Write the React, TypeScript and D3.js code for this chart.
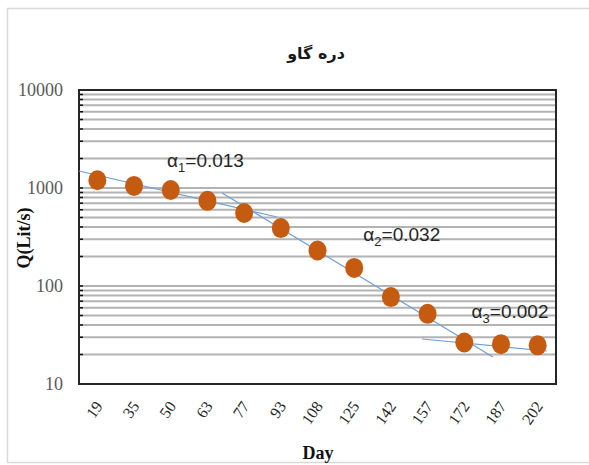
import React from "react";
import * as d3 from "d3";

const categories = ["19", "35", "50", "63", "77", "93", "108", "125", "142", "157", "172", "187", "202"];
const discharge = [1200, 1050, 955, 740, 556, 390, 230, 153, 77, 52, 26.5, 25.5, 24.8];
const yTickLabels = [10, 100, 1000, 10000];
// trend lines: [category index, value] endpoints
const trend1 = [[-0.5, 1490], [4.9, 506]];
const trend2 = [[3.4, 889], [10.78, 18.9]];
const trend3 = [[8.85, 28.8], [12.25, 21.7]];
const trendLabels = [
  { sub: "1", value: "0.013", idx: 1.9, v: 1640 },
  { sub: "2", value: "0.032", idx: 7.25, v: 286 },
  { sub: "3", value: "0.002", idx: 10.2, v: 47 },
];

const W = 589, H = 465;
const left = 79, right = 556, top = 90, bottom = 384;

export default function App() {
  const xIdx = d3.scaleLinear().domain([-0.5, categories.length - 0.5]).range([left, right]);
  const y = d3.scaleLog().domain([10, 10000]).range([bottom, top]);
  const grid = y.ticks();
  const line = d3.line<number[]>().x((d) => xIdx(d[0])).y((d) => y(d[1]));
  return (
    <svg width={W} height={H} style={{ position: "absolute", left: 0, top: 0 }}>
      <rect x={0} y={0} width={W} height={H} fill="#fff" />
      <rect x={7.5} y={8.5} width={620} height={454} fill="#fff" stroke="#d9d9d9" strokeWidth={1.5} />
      <text x={316} y={59} textAnchor="middle" fontFamily="DejaVu Sans" fontWeight="bold" fontSize={16} fill="#1a1a1a">دره گاو</text>
      {grid.map((t, i) => (
        <line key={i} x1={left} x2={right} y1={y(t)} y2={y(t)} stroke="#b3b3b3" strokeWidth={2} />
      ))}
      {grid.map((t, i) => (
        <line key={"k" + i} x1={left} x2={left + 4} y1={y(t)} y2={y(t)} stroke="#111" strokeWidth={1.5} />
      ))}
      <rect x={left} y={top} width={right - left} height={bottom - top} fill="none" stroke="#262626" strokeWidth={2} />
      {yTickLabels.map((t) => (
        <text key={t} x={63} y={y(t) + 6} textAnchor="end" fontFamily="Liberation Serif" fontSize={18} fill="#595959">{t}</text>
      ))}
      {[trend1, trend2, trend3].map((t, i) => (
        <path key={i} d={line(t) || ""} fill="none" stroke="#6f9fd8" strokeWidth={1.2} />
      ))}
      {discharge.map((v, i) => (
        <ellipse key={i} cx={xIdx(i)} cy={y(v)} rx={9} ry={10} fill="#c55a11" />
      ))}
      {trendLabels.map((l, i) => (
        <text key={i} x={xIdx(l.idx)} y={y(l.v)} fontFamily="Liberation Sans" fontSize={19} fill="#262626">
          α<tspan fontSize={13} dy={5}>{l.sub}</tspan><tspan dy={-5}>={l.value}</tspan>
        </text>
      ))}
      {categories.map((c, i) => (
        <text key={c} transform={`translate(${xIdx(i) + 3},${404}) rotate(-55)`} textAnchor="end" dominantBaseline="middle" fontFamily="Liberation Serif" fontSize={16} fill="#262626">{c}</text>
      ))}
      <text x={318} y={459} textAnchor="middle" fontFamily="Liberation Serif" fontWeight="bold" fontSize={18} fill="#111">Day</text>
      <text transform={`translate(30,238) rotate(-90)`} textAnchor="middle" fontFamily="Liberation Serif" fontWeight="bold" fontSize={18} fill="#111">Q(Lit/s)</text>
    </svg>
  );
}
